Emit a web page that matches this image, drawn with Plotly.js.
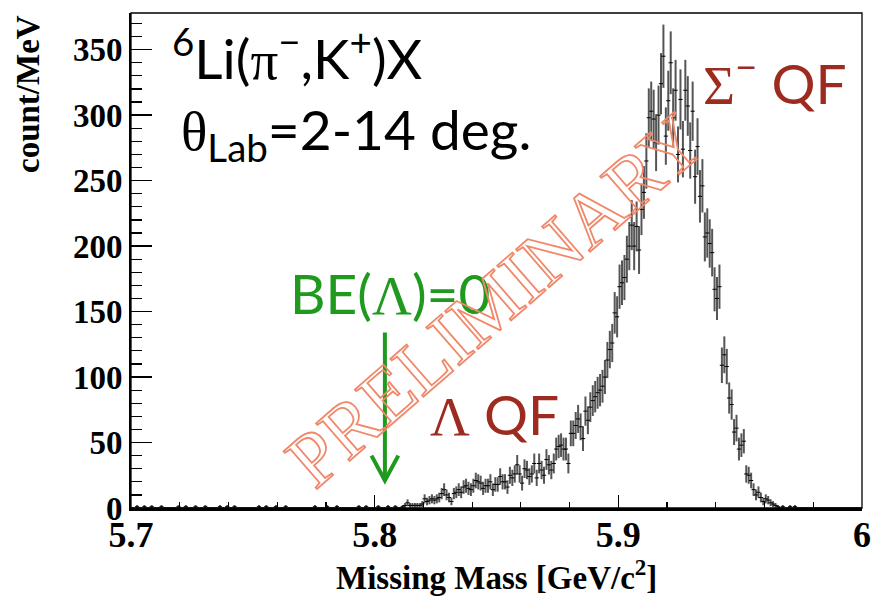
<!DOCTYPE html>
<html>
<head>
<meta charset="utf-8">
<script src="https://cdn.plot.ly/plotly-3.0.1.min.js"></script>
<style>html,body{margin:0;padding:0;background:#fff;}#chart{width:871px;height:596px;}</style>
</head>
<body>
<div id="chart"></div>
<script>
// Histogram: 1 MeV bins from 5.700 to 6.000 GeV/c^2 (300 bins), count/MeV
const binLow = 5.700;
const binWidth = 0.001;
const counts = [
  0,0,1,0,0,1,0,0,1,0,
  0,0,1,0,0,0,0,0,0,1,
  0,0,1,0,0,0,1,0,0,0,
  1,0,0,0,0,0,1,0,0,1,
  0,0,1,0,0,0,0,0,0,0,
  0,0,1,0,0,1,0,0,0,1,
  0,0,0,1,0,0,0,0,0,0,
  0,0,0,0,0,1,0,0,0,0,
  1,0,0,0,1,0,0,0,0,0,
  0,0,0,1,0,0,1,0,0,0,
  0,1,0,0,0,1,0,0,1,0,
  0,1,2,4,2,2,2,2,2,3,
  7,5,6,7,6,7,8,11,14,10,
  8,5,11,12,14,12,16,17,15,14,
  17,21,20,19,15,17,17,20,14,18,
  18,24,20,20,16,25,23,26,33,26,
  19,30,29,24,26,34,23,34,29,25,
  37,33,29,34,45,47,48,45,45,34,
  57,57,63,68,62,53,74,67,77,82,
  85,88,90,93,100,113,121,126,149,146,
  169,172,176,190,200,216,200,215,197,228,
  241,265,298,303,297,279,300,324,345,284,
  311,340,298,319,270,312,274,319,307,273,
  303,253,276,238,246,207,210,202,195,167,
  160,169,109,117,108,84,79,58,61,45,
  48,51,26,25,21,14,10,12,8,5,
  7,6,4,3,2,1,0,1,0,0,
  1,0,1,0,0,0,0,0,0,0,
  0,0,0,0,0,0,0,0,0,0,
  0,0,0,0,0,0,0,0,0,0
];
const errScale = 1.3; // statistical error scale, err = errScale*sqrt(N)
const xTickVals = [5.7, 5.8, 5.9, 6.0];
const xTickText = ['5.7', '5.8', '5.9', '6'];
const yTickVals = [0, 50, 100, 150, 200, 250, 300, 350];
const yTickText = ['0', '50', '100', '150', '200', '250', '300', '350'];
const beThreshold = 5.8042; // BE(Lambda)=0 arrow position

const mass = counts.map((c, i) => binLow + (i + 0.5) * binWidth);
const errs = counts.map(c => errScale * Math.sqrt(c));

// pixel -> paper helpers for text placement
const L = 131, R = 862, T = 13, B = 508;
const px = v => (v - L) / (R - L);
const py = v => (B - v) / (B - T);
const G = s => `<span style="font-family:'Liberation Serif'">${s}</span>`;

const trace = {
  type: 'scatter', mode: 'markers', x: mass, y: counts,
  error_y: {type: 'data', array: errs, visible: true, color: '#555', thickness: 2, width: 0},
  marker: {symbol: 'line-ew', size: 3, color: '#000', line: {color: '#000', width: 1}},
  hoverinfo: 'x+y', showlegend: false
};

const darkRed = '#9e2b1f';
const green = '#1f9a1f';
const salmon = '#f0886a';

const layout = {
  width: 871, height: 596,
  margin: {l: L, r: 871 - R, t: T, b: 596 - B, pad: 0},
  paper_bgcolor: '#fff', plot_bgcolor: '#fff',
  showlegend: false,
  xaxis: {
    range: [5.7, 6.0], showgrid: false, zeroline: false,
    showline: true, linecolor: '#000', linewidth: 2.5,
    ticks: 'inside', ticklen: 13, tickwidth: 1.5, tickcolor: '#000',
    tickmode: 'array', tickvals: xTickVals, ticktext: xTickText,
    ticklabelstandoff: -7, ticklabeloverflow: 'allow',
    minor: {tickmode: 'linear', tick0: 5.7, dtick: 0.02, ticks: 'inside', ticklen: 6, tickwidth: 1.2, tickcolor: '#000', showgrid: false},
    tickfont: {family: 'Liberation Serif', size: 36, color: '#000', weight: 'bold'}
  },
  yaxis: {
    range: [0, 378], showgrid: false, zeroline: false,
    showline: true, linecolor: '#000', linewidth: 2,
    ticks: 'inside', ticklen: 21, tickwidth: 1.5, tickcolor: '#000',
    tickmode: 'array', tickvals: yTickVals, ticktext: yTickText,
    minor: {tickmode: 'linear', tick0: 0, dtick: 10, ticks: 'inside', ticklen: 11, tickwidth: 1.2, tickcolor: '#000', showgrid: false},
    tickfont: {family: 'Liberation Serif', size: 33, color: '#000', weight: 'bold'}
  },
  shapes: [
    {type: 'rect', xref: 'paper', yref: 'paper', x0: 0, x1: 1, y0: 0, y1: 1, line: {color: '#000', width: 1.3}},
    {type: 'line', xref: 'x', yref: 'y', x0: beThreshold, x1: beThreshold, y0: 134, y1: 22, line: {color: green, width: 4}},
    {type: 'path', xref: 'x', yref: 'y', path: `M ${beThreshold - 0.0055},40 L ${beThreshold},21 L ${beThreshold + 0.0055},40`, line: {color: green, width: 4}}
  ],
  annotations: [
    {text: '<b>count/MeV</b>', xref: 'paper', yref: 'paper', x: px(28), y: 1, xanchor: 'center', yanchor: 'top', textangle: -90, showarrow: false,
     font: {family: 'Liberation Serif', size: 33, color: '#000'}},
    {text: '<b>Missing Mass [GeV/c<sup>2</sup>]</b>', xref: 'paper', yref: 'paper', x: 0.5, y: py(575), xanchor: 'center', yanchor: 'middle', showarrow: false,
     font: {family: 'Liberation Serif', size: 33, color: '#000'}},
    {text: `<sup>6</sup>Li(${G('π')}<sup>−</sup>,K<sup>+</sup>)X`, xref: 'paper', yref: 'paper', x: px(170), y: py(55), xanchor: 'left', yanchor: 'middle', showarrow: false,
     font: {family: 'Lato', size: 55, color: '#000'}},
    {text: `${G('θ')}<sub>Lab</sub>=2-14 deg.`, xref: 'paper', yref: 'paper', x: px(179), y: py(133), xanchor: 'left', yanchor: 'middle', showarrow: false,
     font: {family: 'Lato', size: 55, color: '#000'}},
    {text: `${G('Σ')}<sup>−</sup> QF`, xref: 'paper', yref: 'paper', x: px(701), y: py(80), xanchor: 'left', yanchor: 'middle', showarrow: false,
     font: {family: 'Lato', size: 55, color: darkRed}},
    {text: `${G('Λ')} QF`, xref: 'paper', yref: 'paper', x: px(428), y: py(414), xanchor: 'left', yanchor: 'middle', showarrow: false,
     font: {family: 'Lato', size: 55, color: darkRed}},
    {text: `BE(${G('Λ')})=0`, xref: 'paper', yref: 'paper', x: px(288), y: py(293), xanchor: 'left', yanchor: 'middle', showarrow: false,
     font: {family: 'Lato', size: 55, color: green}},
    {text: `<span style="fill:none;stroke:${salmon};stroke-width:1.8px">PRELIMINARY</span>`, xref: 'paper', yref: 'paper', x: px(495), y: py(300), xanchor: 'center', yanchor: 'middle', textangle: -41, showarrow: false,
     font: {family: 'Liberation Serif', size: 77, color: salmon}}
  ]
};

Plotly.newPlot('chart', [trace], layout, {displayModeBar: false, staticPlot: true});
</script>
</body>
</html>
